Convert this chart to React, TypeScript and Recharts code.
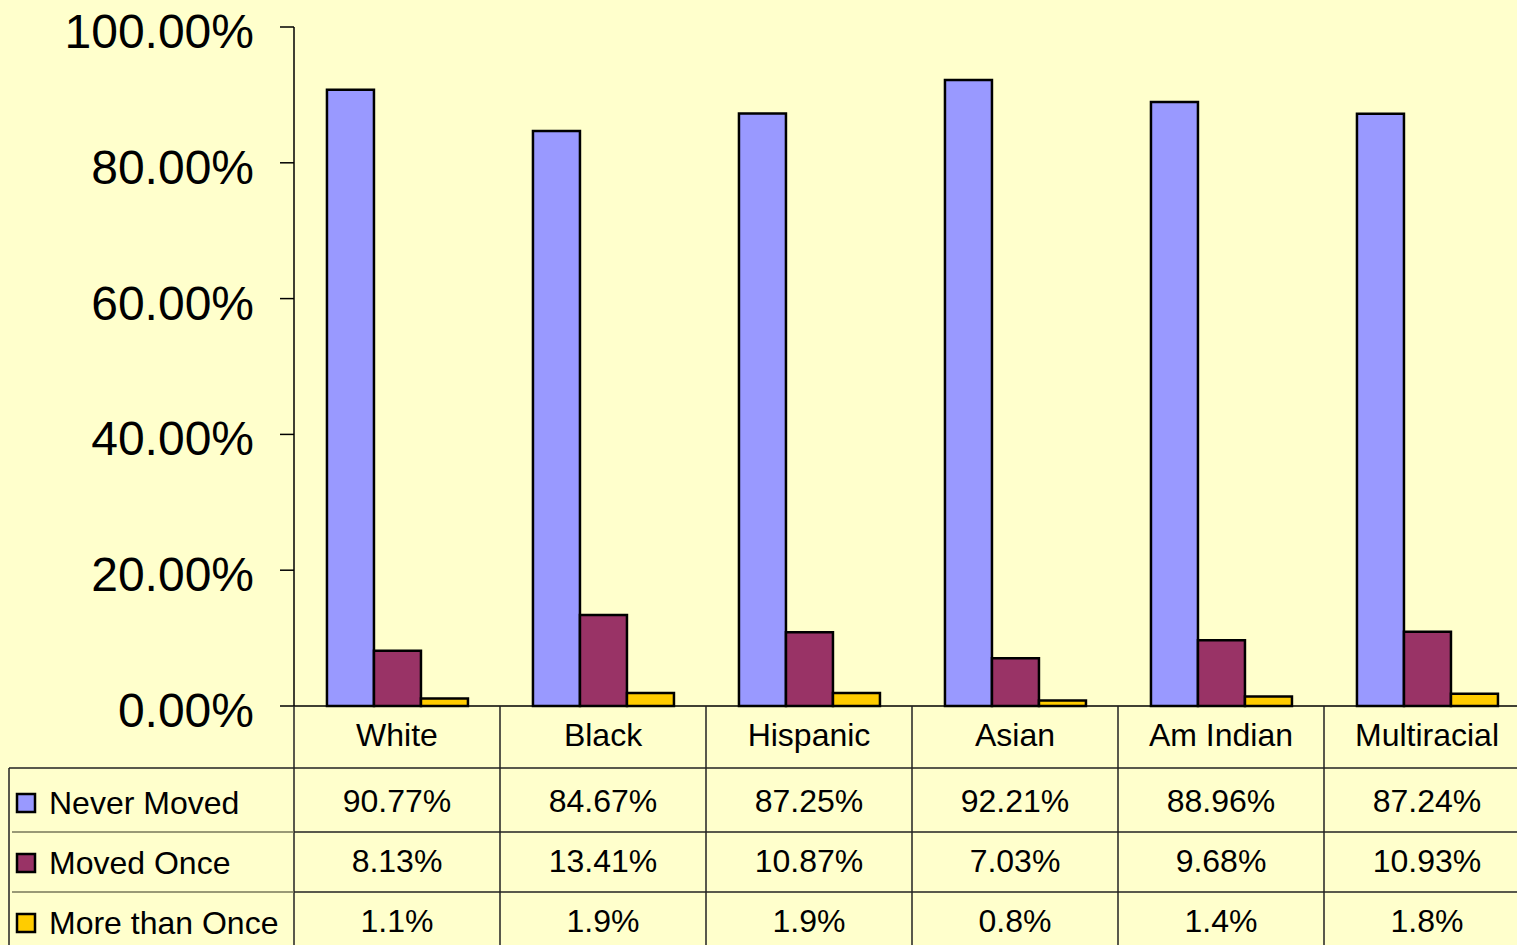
import { BarChart, Bar, XAxis, YAxis } from "recharts";

const categories = ["White", "Black", "Hispanic", "Asian", "Am Indian", "Multiracial"];
const neverMoved = [90.77, 84.67, 87.25, 92.21, 88.96, 87.24];
const movedOnce = [8.13, 13.41, 10.87, 7.03, 9.68, 10.93];
const moreThanOnce = [1.1, 1.9, 1.9, 0.8, 1.4, 1.8];
const yTicks = [0, 20, 40, 60, 80, 100];

const series = [
  { key: "never", name: "Never Moved", color: "#9999FF", values: neverMoved, digits: 2 },
  { key: "once", name: "Moved Once", color: "#993366", values: movedOnce, digits: 2 },
  { key: "more", name: "More than Once", color: "#FFCC00", values: moreThanOnce, digits: 1 },
];

const data = categories.map((name, i) => {
  const row: Record<string, string | number> = { name };
  series.forEach((s) => (row[s.key] = s.values[i]));
  return row;
});

const FONT = "'Liberation Sans', Arial, sans-serif";
const CHART_W = 1530;
const CHART_H = 945;
const Y_W = 294;
const TOP = 27;
const TABLE_H = 239;
const BAND = (CHART_W - Y_W) / categories.length;
const LINE = "#222";

// row layout of the data table, relative to the x axis line
const headerBottom = 62;
const rowBottoms = [126, 186, TABLE_H];
const rowCenters = [95, 155, 215];

function TableTick(props: any) {
  const { x, y, payload, index } = props;
  const left = x - BAND / 2;
  const right = x + BAND / 2;
  return (
    <g fontFamily={FONT} fontSize={32} fill="#000">
      <line x1={right} y1={y} x2={right} y2={y + TABLE_H} stroke={LINE} strokeWidth={1.5} />
      <line x1={left} y1={y + headerBottom} x2={right} y2={y + headerBottom} stroke={LINE} strokeWidth={1.5} />
      {rowBottoms.slice(0, 2).map((b) => (
        <line key={b} x1={left} y1={y + b} x2={right} y2={y + b} stroke={LINE} strokeWidth={1.5} />
      ))}
      <text x={x} y={y + 29} textAnchor="middle" dominantBaseline="central">
        {payload.value}
      </text>
      {series.map((s, r) => (
        <text key={s.key} x={x} y={y + rowCenters[r]} textAnchor="middle" dominantBaseline="central">
          {s.values[index].toFixed(s.digits)}%
        </text>
      ))}
      {index === 0 && (
        <g>
          <line x1={left} y1={y} x2={left} y2={y + TABLE_H} stroke={LINE} strokeWidth={1.5} />
          <line x1={9} y1={y + headerBottom} x2={left} y2={y + headerBottom} stroke={LINE} strokeWidth={1.5} />
          <line x1={9} y1={y + headerBottom} x2={9} y2={y + TABLE_H} stroke={LINE} strokeWidth={1.5} />
          {rowBottoms.slice(0, 2).map((b) => (
            <line key={b} x1={12} y1={y + b} x2={left} y2={y + b} stroke="#77775a" strokeWidth={1.5} />
          ))}
          {series.map((s, r) => (
            <g key={s.key}>
              <rect x={17} y={y + rowCenters[r] - 7} width={18} height={18} fill={s.color} stroke="#000" strokeWidth={2.5} />
              <text x={49} y={y + rowCenters[r] + 2} dominantBaseline="central">
                {s.name}
              </text>
            </g>
          ))}
        </g>
      )}
    </g>
  );
}

export default function App() {
  return (
    <div
      style={{
        position: "fixed",
        left: 0,
        top: 0,
        width: 1517,
        height: 945,
        overflow: "hidden",
        background: "#FFFFCC",
      }}
    >
      <BarChart
        width={CHART_W}
        height={CHART_H}
        data={data}
        margin={{ top: TOP, right: 0, bottom: 0, left: 0 }}
        barCategoryGap="16%"
        barGap={0}
      >
        <YAxis
          width={Y_W}
          domain={[0, 100]}
          ticks={yTicks}
          interval={0}
          tickFormatter={(v: number) => `${v.toFixed(2)}%`}
          tick={{ fill: "#000", fontSize: 48, fontFamily: FONT, dy: 4 }}
          tickSize={14}
          tickMargin={26}
          axisLine={{ stroke: "#000", strokeWidth: 1.5 }}
          tickLine={{ stroke: "#000", strokeWidth: 1.5 }}
        />
        <XAxis
          dataKey="name"
          height={TABLE_H}
          interval={0}
          tickLine={false}
          tickSize={0}
          tickMargin={0}
          axisLine={{ stroke: "#000", strokeWidth: 1.5 }}
          tick={<TableTick />}
        />
        {series.map((s) => (
          <Bar
            key={s.key}
            dataKey={s.key}
            name={s.name}
            fill={s.color}
            stroke="#000"
            strokeWidth={2.5}
            isAnimationActive={false}
          />
        ))}
      </BarChart>
    </div>
  );
}
